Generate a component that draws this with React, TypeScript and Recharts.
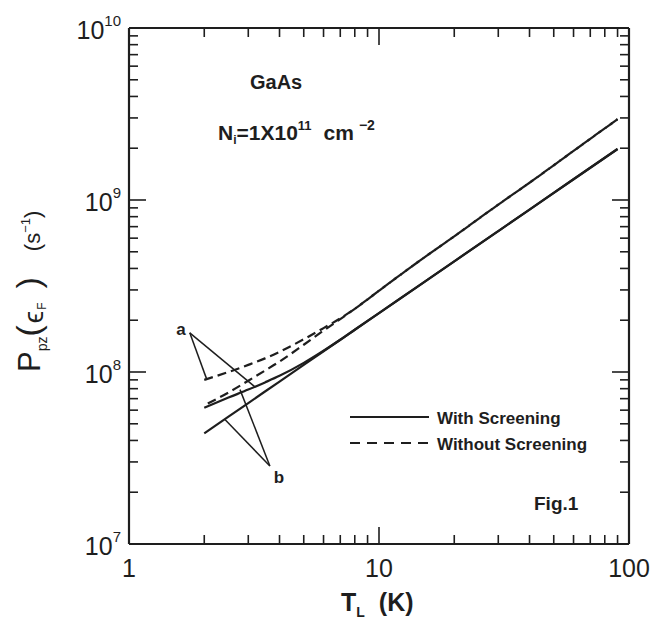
import React from "react";
import { LineChart, Line, XAxis, YAxis, ReferenceLine } from "recharts";

// lattice temperature T_L (K)
const temps = [2, 2.5, 3, 3.5, 4, 5, 6, 7, 8, 10, 15, 20, 30, 40, 60, 90];

// P_pz(eF) in s^-1
const aWithout = [9.0e7, 1.0e8, 1.1e8, 1.2e8, 1.31e8, 1.55e8, 1.8e8, 2.05e8, 2.33e8, 2.97e8, 4.58e8, 6.15e8, 9.4e8, 1.26e9, 1.93e9, 2.95e9];
const bWithout = [6.4e7, 7.6e7, 8.9e7, 1.02e8, 1.15e8, 1.44e8, 1.74e8, 2.03e8, 2.33e8, 2.97e8, 4.58e8, 6.15e8, 9.4e8, 1.26e9, 1.93e9, 2.95e9];
const aWith = [6.2e7, 7.1e7, 7.9e7, 8.7e7, 9.5e7, 1.13e8, 1.33e8, 1.54e8, 1.76e8, 2.2e8, 3.3e8, 4.4e8, 6.6e8, 8.8e8, 1.32e9, 1.98e9];
const bWith = [4.4e7, 5.5e7, 6.6e7, 7.7e7, 8.8e7, 1.1e8, 1.32e8, 1.54e8, 1.76e8, 2.2e8, 3.3e8, 4.4e8, 6.6e8, 8.8e8, 1.32e9, 1.98e9];

const xTicks = [1, 2, 3, 4, 5, 6, 7, 8, 9, 10, 20, 30, 40, 50, 60, 70, 80, 90, 100];
const yTicks = [
  1e7, 2e7, 3e7, 4e7, 5e7, 6e7, 7e7, 8e7, 9e7,
  1e8, 2e8, 3e8, 4e8, 5e8, 6e8, 7e8, 8e8, 9e8,
  1e9, 2e9, 3e9, 4e9, 5e9, 6e9, 7e9, 8e9, 9e9, 1e10,
];

// pointer lines for the "a" and "b" labels (data coords)
const pointerA1 = [{ x: 1.75, y: 1.69e8 }, { x: 2.05, y: 9.0e7 }];
const pointerA2 = [{ x: 1.75, y: 1.69e8 }, { x: 3.19, y: 8.2e7 }];
const pointerB1 = [{ x: 3.66, y: 2.84e7 }, { x: 2.42, y: 5.3e7 }];
const pointerB2 = [{ x: 3.66, y: 2.84e7 }, { x: 2.78, y: 7.9e7 }];

const data = temps.map((T, i) => ({
  T,
  aWithout: aWithout[i],
  bWithout: bWithout[i],
  aWith: aWith[i],
  bWith: bWith[i],
}));

const INK = "#1e1e1e";
const FONT = "'Liberation Sans', Arial, Helvetica, sans-serif";

const X_MIN = 1, X_MAX = 100, Y_MIN = 1e7, Y_MAX = 1e10;
const isDecade = (v: number) => Math.abs(Math.log10(v) - Math.round(Math.log10(v))) < 1e-6;
// inward tick lengths, as fractions of a decade (x decade ~250px, y decade ~172px)
const tickX = (v: number) => Math.pow(10, (isDecade(v) ? 17 : 9) / 172);
const tickY = (v: number) => Math.pow(10, (isDecade(v) ? 17 : 9) / 250);

const BottomLabel = (props: any) => {
  const v = props.payload.value;
  if (!isDecade(v)) return <g />;
  return (
    <text x={props.x} y={props.y + 33} textAnchor="middle" fontSize={25} fill={INK} fontFamily={FONT}>
      {v}
    </text>
  );
};

const LeftLabel = (props: any) => {
  const v = props.payload.value;
  if (!isDecade(v)) return <g />;
  return (
    <text x={props.x - 8} y={props.y + 11} textAnchor="end" fontSize={25} fill={INK} fontFamily={FONT}>
      10
      <tspan fontSize={15} dy={-13}>
        {Math.round(Math.log10(v))}
      </tspan>
    </text>
  );
};

const axisLine = { stroke: INK, strokeWidth: 2.2 };

export default function App() {
  return (
    <div style={{ position: "absolute", left: 0, top: 0, width: 668, height: 621, background: "#fff" }}>
      {/* axis titles, annotations and legend (under the chart) */}
      <svg width={668} height={621} style={{ position: "absolute", left: 0, top: 0 }} fontFamily={FONT}>
        <g fill={INK}>
          <text x={250} y={89} fontSize={20} fontWeight="bold">GaAs</text>
          <text x={218} y={140} fontSize={21} fontWeight="bold">
            N<tspan fontSize={12} dy={4}>i</tspan>
            <tspan dy={-4}>=1X10</tspan>
            <tspan fontSize={13} dy={-10}>11</tspan>
            <tspan dy={10} dx={12}>cm</tspan>
            <tspan fontSize={14} dy={-10} dx={5}>−2</tspan>
          </text>

          <text x={181} y={335} fontSize={17} fontWeight="bold" textAnchor="middle">a</text>
          <text x={279} y={483} fontSize={17} fontWeight="bold" textAnchor="middle">b</text>

          <text x={437} y={424} fontSize={17} fontWeight="bold">With Screening</text>
          <text x={437} y={450} fontSize={17} fontWeight="bold">Without Screening</text>
          <text x={534} y={510} fontSize={19} fontWeight="bold">Fig.1</text>

          <text x={341} y={611} fontSize={25} fontWeight="bold">
            T<tspan fontSize={14} dy={6}>L</tspan>
            <tspan dy={-6} dx={14}>(K)</tspan>
          </text>

          <text x={40} y={372} transform="rotate(-90 40 372)" fontSize={31}>
            P<tspan fontSize={14} dy={7}>pz</tspan>
            <tspan fontSize={34} dy={-7}>(</tspan>
            <tspan fontSize={28} dy={3} dx={2}>ϵ</tspan>
            <tspan fontSize={12} dy={3} dx={1}>F</tspan>
            <tspan fontSize={34} dy={-6} dx={14}>)</tspan>
            <tspan fontSize={22} dx={26}>(s</tspan>
            <tspan fontSize={13} dy={-10}>−1</tspan>
            <tspan fontSize={22} dy={10}>)</tspan>
          </text>
        </g>
        <path d="M350,417L429,417" stroke={INK} strokeWidth={2.2} />
        <path d="M350,443L429,443" stroke={INK} strokeWidth={2.2} strokeDasharray="10 7" />
      </svg>

      <div style={{ position: "absolute", left: 0, top: 0 }}>
        <LineChart width={668} height={621} data={data} margin={{ top: 27, right: 38, bottom: 76, left: 128 }}>
          <XAxis
            xAxisId="b"
            dataKey="T"
            type="number"
            scale="log"
            domain={[X_MIN, X_MAX]}
            ticks={xTicks}
            interval={0}
            height={1}
            tickSize={0}
            tickMargin={0}
            tickLine={false}
            axisLine={axisLine}
            tick={BottomLabel}
            allowDataOverflow
          />
          <XAxis
            xAxisId="t"
            orientation="top"
            dataKey="T"
            type="number"
            scale="log"
            domain={[X_MIN, X_MAX]}
            ticks={xTicks}
            height={1}
            tickLine={false}
            tick={false}
            axisLine={axisLine}
            allowDataOverflow
          />
          <YAxis
            yAxisId="l"
            type="number"
            scale="log"
            domain={[Y_MIN, Y_MAX]}
            ticks={yTicks}
            interval={0}
            width={1}
            tickSize={0}
            tickMargin={0}
            tickLine={false}
            axisLine={axisLine}
            tick={LeftLabel}
            allowDataOverflow
          />
          <YAxis
            yAxisId="r"
            orientation="right"
            type="number"
            scale="log"
            domain={[Y_MIN, Y_MAX]}
            ticks={yTicks}
            width={1}
            tickLine={false}
            tick={false}
            axisLine={axisLine}
            allowDataOverflow
          />

          {/* inward minor/major tick marks on the four sides */}
          {xTicks.map((v) => (
            <ReferenceLine key={`tb${v}`} xAxisId="b" yAxisId="l" ifOverflow="visible" segment={[{ x: v, y: Y_MIN }, { x: v, y: Y_MIN * tickX(v) }]} stroke={INK} strokeWidth={1.6} />
          ))}
          {xTicks.map((v) => (
            <ReferenceLine key={`tt${v}`} xAxisId="b" yAxisId="l" ifOverflow="visible" segment={[{ x: v, y: Y_MAX }, { x: v, y: Y_MAX / tickX(v) }]} stroke={INK} strokeWidth={1.6} />
          ))}
          {yTicks.map((v) => (
            <ReferenceLine key={`tl${v}`} xAxisId="b" yAxisId="l" ifOverflow="visible" segment={[{ x: X_MIN, y: v }, { x: X_MIN * tickY(v), y: v }]} stroke={INK} strokeWidth={1.6} />
          ))}
          {yTicks.map((v) => (
            <ReferenceLine key={`tr${v}`} xAxisId="b" yAxisId="l" ifOverflow="visible" segment={[{ x: X_MAX, y: v }, { x: X_MAX / tickY(v), y: v }]} stroke={INK} strokeWidth={1.6} />
          ))}

          <Line xAxisId="b" yAxisId="l" dataKey="bWith" type="linear" stroke={INK} strokeWidth={2.2} dot={false} isAnimationActive={false} />
          <Line xAxisId="b" yAxisId="l" dataKey="aWith" type="monotone" stroke={INK} strokeWidth={2.2} dot={false} isAnimationActive={false} />
          <Line xAxisId="b" yAxisId="l" dataKey="aWithout" type="monotone" stroke={INK} strokeWidth={2.2} strokeDasharray="9 5" dot={false} isAnimationActive={false} />
          <Line xAxisId="b" yAxisId="l" dataKey="bWithout" type="monotone" stroke={INK} strokeWidth={2.2} strokeDasharray="9 5" strokeDashoffset={10} dot={false} isAnimationActive={false} />

          <ReferenceLine xAxisId="b" yAxisId="l" segment={pointerA1} stroke={INK} strokeWidth={1.5} />
          <ReferenceLine xAxisId="b" yAxisId="l" segment={pointerA2} stroke={INK} strokeWidth={1.5} />
          <ReferenceLine xAxisId="b" yAxisId="l" segment={pointerB1} stroke={INK} strokeWidth={1.5} />
          <ReferenceLine xAxisId="b" yAxisId="l" segment={pointerB2} stroke={INK} strokeWidth={1.5} />
        </LineChart>
      </div>
    </div>
  );
}
